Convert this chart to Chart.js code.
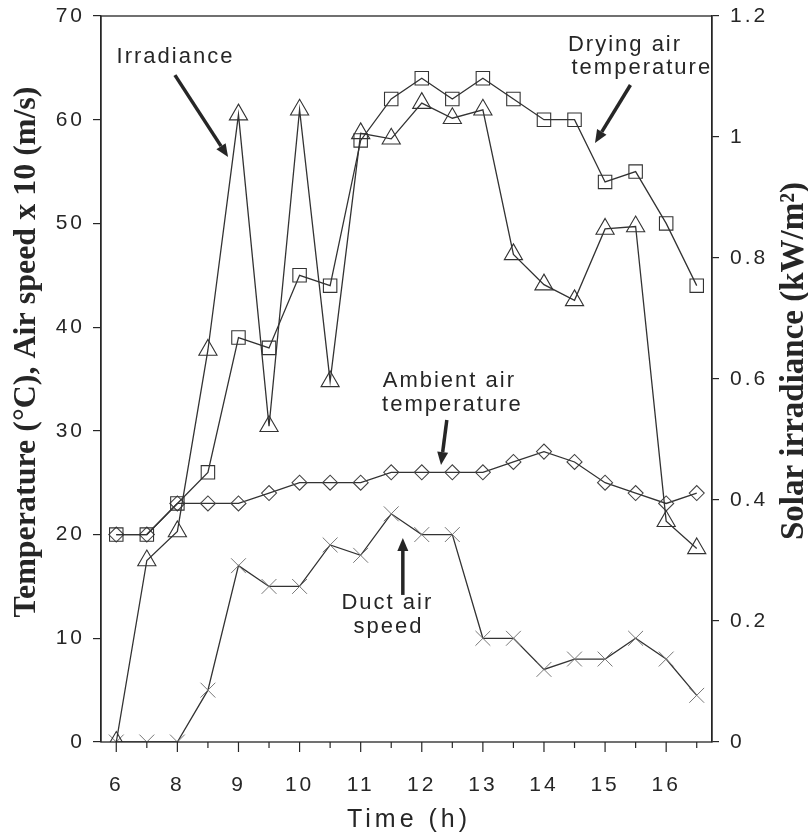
<!DOCTYPE html>
<html><head><meta charset="utf-8">
<script src="https://cdn.jsdelivr.net/npm/chart.js@4.4.1/dist/chart.umd.min.js"></script>
<style>html,body{margin:0;padding:0;background:#fff}#wrap{width:808px;height:838px;position:relative}</style>
</head><body><div id="wrap"><canvas id="c"></canvas></div>
<script>
// ---- data ----
const times = ['6','7','8','8.5','9','9.5','10','10.5','11','11.5','12','12.5','13','13.5','14','14.5','15','15.5','16','16.5'];
const tickLabels = ['6','','8','','9','','10','','11','','12','','13','','14','','15','','16',''];
const irradiance = [0,0.30,0.348,0.648,1.037,0.522,1.045,0.596,1.006,0.997,1.056,1.031,1.045,0.806,0.756,0.73,0.848,0.852,0.365,0.32];
const dryingTemp = [20,20,23,26,39,38,45,44,58,62,64,62,64,62,60,60,54,55,50,44];
const ambientTemp = [20,20,23,23,23,24,25,25,25,26,26,26,26,27,28,27,25,24,23,24];
const ductSpeed = [0,0,0,5,17,15,15,19,18,22,20,20,10,10,7,8,8,10,8,4.5];
const leftTicks = [0,10,20,30,40,50,60,70];
const rightTicks = [0,0.2,0.4,0.6,0.8,1,1.2];

// ---- annotations (positions in data units: category index, left-axis value) ----
const notes = [
  {lines:[{t:'Irradiance', x:1.905, y:66.05}], arrow:[1.92,64.3,3.66,56.4]},
  {lines:[{t:'Drying air', x:16.62, y:67.2},{t:'temperature', x:17.17, y:65.0}], arrow:[16.83,63.35,15.67,57.76]},
  {lines:[{t:'Ambient air', x:10.87, y:34.81},{t:'temperature', x:10.97, y:32.5}], arrow:[10.82,31.05,10.63,26.71]},
  {lines:[{t:'Duct air', x:8.84, y:13.4},{t:'speed', x:8.88, y:11.09}], arrow:[9.38,14.18,9.38,19.67]}
];

const INK = '#262626';
const SANS = "'Liberation Sans', Arial, sans-serif";
const SERIF = "'Liberation Serif', 'Times New Roman', serif";

const framePlugin = {
  id:'frame',
  beforeDraw(chart){ chart.ctx.letterSpacing = '3px'; },
  afterDraw(chart){
    const ctx = chart.ctx, a = chart.chartArea, xs = chart.scales.x;
    ctx.save();
    ctx.letterSpacing = '0px';
    ctx.strokeStyle = INK; ctx.lineWidth = 1.3;
    ctx.strokeRect(a.left, a.top, a.right - a.left, a.bottom - a.top);
    // bottom tick marks
    ctx.lineWidth = 1.2;
    times.forEach((t,i)=>{
      const px = xs.getPixelForValue(i);
      const len = tickLabels[i] ? 10 : 6;
      ctx.beginPath(); ctx.moveTo(px, a.bottom); ctx.lineTo(px, a.bottom + len); ctx.stroke();
    });
    // axis titles
    ctx.fillStyle = INK;
    ctx.textAlign = 'center'; ctx.textBaseline = 'middle';
    ctx.font = 'bold 32px ' + SERIF;
    ctx.save(); ctx.translate(27, 352); ctx.rotate(-Math.PI/2);
    ctx.fillText('Temperature (°C), Air speed x 10 (m/s)', 0, 0); ctx.restore();
    ctx.font = 'bold 33px ' + SERIF;
    ctx.save(); ctx.translate(794, 361); ctx.rotate(-Math.PI/2);
    ctx.fillText('Solar irradiance (kW/m²)', 0, 0); ctx.restore();
    ctx.font = '25px ' + SANS; ctx.letterSpacing = '4px';
    ctx.fillText('Time (h)', 409, 820);
    ctx.restore();
    ctx.letterSpacing = '0px';
  },
  afterDatasetsDraw(chart){
    const ctx = chart.ctx, xs = chart.scales.x, ys = chart.scales.y;
    ctx.save();
    ctx.fillStyle = INK; ctx.strokeStyle = INK;
    ctx.font = '22px ' + SANS; ctx.letterSpacing = '2px';
    ctx.textAlign = 'center'; ctx.textBaseline = 'middle';
    notes.forEach(n=>{
      n.lines.forEach(l=> ctx.fillText(l.t, xs.getPixelForValue(l.x) + 1, ys.getPixelForValue(l.y)));
      const [x0,y0,x1,y1] = n.arrow;
      const X0 = xs.getPixelForValue(x0), Y0 = ys.getPixelForValue(y0);
      const X1 = xs.getPixelForValue(x1), Y1 = ys.getPixelForValue(y1);
      const ang = Math.atan2(Y1 - Y0, X1 - X0);
      const hl = 13, hw = 5.5;
      const bx = X1 - Math.cos(ang)*hl, by = Y1 - Math.sin(ang)*hl;
      ctx.lineWidth = 3.5;
      ctx.beginPath(); ctx.moveTo(X0, Y0); ctx.lineTo(bx, by); ctx.stroke();
      ctx.beginPath();
      ctx.moveTo(X1, Y1);
      ctx.lineTo(bx + Math.sin(ang)*hw, by - Math.cos(ang)*hw);
      ctx.lineTo(bx - Math.sin(ang)*hw, by + Math.cos(ang)*hw);
      ctx.closePath(); ctx.fill();
    });
    ctx.restore();
  }
};

const lineDefaults = {
  borderColor:'#333', backgroundColor:'rgba(0,0,0,0)', pointBackgroundColor:'rgba(0,0,0,0)',
  borderWidth:1.3, pointBorderWidth:1.1, tension:0, fill:false, pointHoverRadius:0
};

new Chart(document.getElementById('c'), {
  type:'line',
  data:{
    labels: times,
    datasets:[
      Object.assign({}, lineDefaults, {label:'Solar irradiance', data:irradiance, yAxisID:'y1', pointStyle:'triangle', pointRadius:10.5, pointBorderColor:'#333'}),
      Object.assign({}, lineDefaults, {label:'Drying air temperature', data:dryingTemp, yAxisID:'y', pointStyle:'rect', pointRadius:9.5, pointBorderColor:'#333'}),
      Object.assign({}, lineDefaults, {label:'Ambient air temperature', data:ambientTemp, yAxisID:'y', pointStyle:'rectRot', pointRadius:7.5, pointBorderColor:'#444'}),
      Object.assign({}, lineDefaults, {label:'Duct air speed', data:ductSpeed, yAxisID:'y', pointStyle:'crossRot', pointRadius:10.5, pointBorderColor:'#777', pointBorderWidth:1})
    ]
  },
  options:{
    responsive:true, maintainAspectRatio:false, animation:false,
    layout:{padding:{top:16,left:0,right:0,bottom:0}},
    plugins:{legend:{display:false}, tooltip:{enabled:false}},
    events:[],
    scales:{
      x:{type:'category', offset:true,
        grid:{display:false}, border:{display:false},
        ticks:{autoSkip:false, maxRotation:0, minRotation:0, padding:23, color:INK,
          font:{family:SANS, size:21}, callback:(v,i)=>tickLabels[i]},
        afterFit:s=>{s.height = 96; s.paddingLeft = 0; s.paddingRight = 0;}
      },
      y:{position:'left', min:0, max:70,
        afterBuildTicks:s=>{s.ticks = leftTicks.map(v=>({value:v}));},
        grid:{drawOnChartArea:false, tickLength:8, color:INK, lineWidth:1.2},
        border:{display:true, color:INK, width:1.3},
        ticks:{padding:8, color:INK, font:{family:SANS, size:21}, callback:v=>String(v)},
        afterFit:s=>{s.width = 101; s.paddingTop = 0; s.paddingBottom = 0;}
      },
      y1:{position:'right', min:0, max:1.2,
        afterBuildTicks:s=>{s.ticks = rightTicks.map(v=>({value:v}));},
        grid:{drawOnChartArea:false, tickLength:7, color:INK, lineWidth:1.2},
        border:{display:true, color:INK, width:1.3},
        ticks:{padding:11, color:INK, font:{family:SANS, size:21}, callback:v=>String(parseFloat(Number(v).toFixed(2)))},
        afterFit:s=>{s.width = 96; s.paddingTop = 0; s.paddingBottom = 0;}
      }
    }
  },
  plugins:[framePlugin]
});
</script>
</body></html>
